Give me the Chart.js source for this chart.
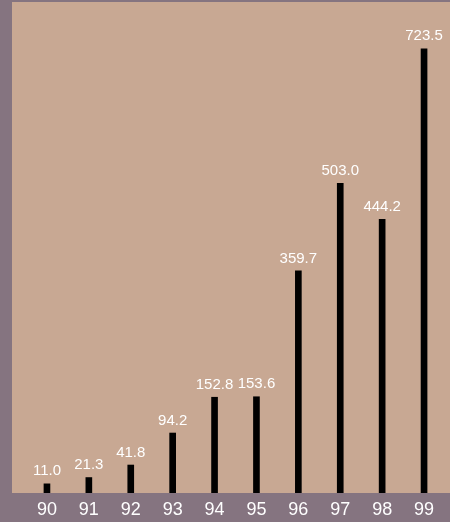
<!DOCTYPE html>
<html>
<head>
<meta charset="utf-8">
<style>
  html, body { margin: 0; padding: 0; background: #857480; }
  #wrap { width: 450px; height: 522px; }
</style>
<script src="https://cdn.jsdelivr.net/npm/chart.js@4/dist/chart.umd.min.js"></script>
</head>
<body>
<div id="wrap"><canvas id="chart" width="450" height="522"></canvas></div>
<script>
// Yearly values, 1990–1999
const years = ["90", "91", "92", "93", "94", "95", "96", "97", "98", "99"];
const values = [11.0, 21.3, 41.8, 94.2, 152.8, 153.6, 359.7, 503.0, 444.2, 723.5];

const FONT = "'Liberation Sans', Arial, Helvetica, sans-serif";
const OUTER_BG = "#857480";
const PLOT_BG = "#c8a893";
const Y_FLOOR = -4;   // value axis starts a little below zero

// Paint the frame and the tan plot panel behind the bars
const panelPlugin = {
  id: "panel",
  beforeDraw(chart) {
    const { ctx, chartArea } = chart;
    ctx.save();
    ctx.fillStyle = OUTER_BG;
    ctx.fillRect(0, 0, chart.width, chart.height);
    ctx.fillStyle = PLOT_BG;
    ctx.fillRect(12, chartArea.top, chart.width - 12, chartArea.bottom - chartArea.top);
    ctx.restore();
  }
};

// Value labels above each bar
const valueLabels = {
  id: "valueLabels",
  afterDatasetsDraw(chart) {
    const { ctx } = chart;
    const meta = chart.getDatasetMeta(0);
    ctx.save();
    ctx.fillStyle = "#ffffff";
    ctx.font = "15px " + FONT;
    ctx.textAlign = "center";
    ctx.textBaseline = "bottom";
    meta.data.forEach((bar, i) => {
      ctx.fillText(values[i].toFixed(1), bar.x, bar.y - 5);
    });
    ctx.restore();
  }
};

new Chart(document.getElementById("chart"), {
  type: "bar",
  data: {
    labels: years,
    datasets: [{
      data: values,
      base: Y_FLOOR,
      backgroundColor: "#000000",
      borderWidth: 0,
      barThickness: 6
    }]
  },
  options: {
    responsive: false,
    animation: false,
    layout: { padding: { left: 26, right: 5, top: 2, bottom: 0 } },
    plugins: {
      legend: { display: false },
      tooltip: { enabled: false }
    },
    scales: {
      x: {
        grid: { display: false, drawTicks: false },
        border: { display: false },
        ticks: {
          color: "#ffffff",
          font: { family: FONT, size: 18 },
          padding: 6,
          maxRotation: 0
        },
        afterFit(scale) { scale.height = 29; }
      },
      y: {
        display: false,
        min: Y_FLOOR,
        max: 800
      }
    }
  },
  plugins: [panelPlugin, valueLabels]
});
</script>
</body>
</html>
